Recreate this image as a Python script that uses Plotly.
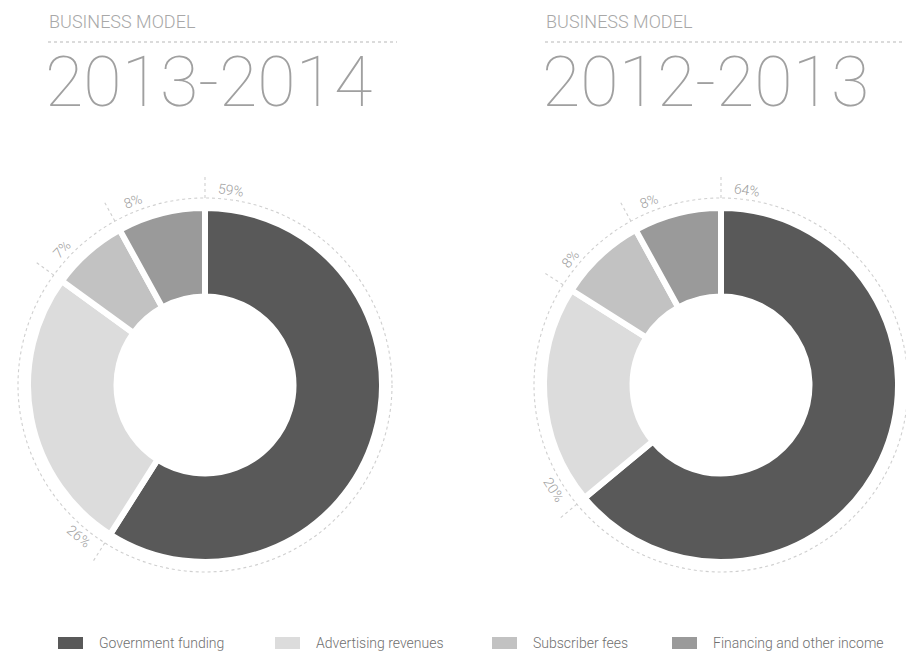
import math
import plotly.graph_objects as go

# Revenue mix per fiscal year (percent of total)
categories = ["Government funding", "Advertising revenues", "Subscriber fees", "Financing and other income"]
years = ["2013-2014", "2012-2013"]
share_2013_2014 = [59, 26, 7, 8]
share_2012_2013 = [64, 20, 8, 8]
colors = ["#595959", "#dcdcdc", "#c2c2c2", "#9a9a9a"]

W, H = 906, 660
R = 177            # donut outer radius (px)
RING = 187         # dotted guide ring radius (px)
centers = [(205, 385), (721, 385)]
title_x = [48, 545]
rule_end = [397, 905]


def px(x):
    return x / W


def py(y):
    return 1 - y / H


def polar(cx, cy, r, deg):
    a = math.radians(deg)
    return cx + r * math.sin(a), cy - r * math.cos(a)


fig = go.Figure()
shapes, annotations = [], []

for (cx, cy), year, values, tx, rx in zip(centers, years, [share_2013_2014, share_2012_2013], title_x, rule_end):
    fig.add_trace(go.Pie(
        labels=categories, values=values, sort=False, direction="clockwise", rotation=0,
        hole=0.5, textinfo="none", hoverinfo="label+percent",
        marker=dict(colors=colors, line=dict(color="white", width=6)),
        domain=dict(x=[px(cx - R), px(cx + R)], y=[py(cy + R), py(cy - R)]),
        showlegend=False,
    ))

    # dotted guide ring around the donut
    shapes.append(dict(type="circle", xref="paper", yref="paper",
                       x0=px(cx - RING), x1=px(cx + RING), y0=py(cy + RING), y1=py(cy - RING),
                       line=dict(color="#cfcfcf", width=1.1, dash="dot")))

    # tick + percentage label at the start of every slice
    total = sum(values)
    start = 0.0
    for v in values:
        x0, y0 = polar(cx, cy, RING, start)
        x1, y1 = polar(cx, cy, RING + 22, start)
        shapes.append(dict(type="line", xref="paper", yref="paper",
                           x0=px(x0), y0=py(y0), x1=px(x1), y1=py(y1),
                           line=dict(color="#cfcfcf", width=1.1, dash="dot")))
        a = start + 7.5
        lx, ly = polar(cx, cy, RING + 10, a)
        ang = a % 360
        if 90 < ang < 270:
            ang -= 180
        elif ang >= 270:
            ang -= 360
        annotations.append(dict(x=px(lx), y=py(ly), xref="paper", yref="paper",
                                text=f"{v}%", showarrow=False, textangle=ang,
                                xanchor="center", yanchor="middle",
                                font=dict(family="Roboto", size=14, color="#a0a0a0", weight=300)))
        start += v / total * 360

    # heading block
    annotations.append(dict(x=px(tx - 1), y=py(22), xref="paper", yref="paper", text="BUSINESS MODEL",
                            showarrow=False, xanchor="left", yanchor="middle",
                            font=dict(family="Roboto", size=18, color="#a8a8a8", weight=300)))
    shapes.append(dict(type="line", xref="paper", yref="paper",
                       x0=px(tx), x1=px(rx), y0=py(42), y1=py(42),
                       line=dict(color="#b8b8b8", width=1.2, dash="dot")))
    annotations.append(dict(x=px(tx - 5), y=py(82), xref="paper", yref="paper", text=year,
                            showarrow=False, xanchor="left", yanchor="middle",
                            font=dict(family="Roboto", size=70, color="#a0a0a0", weight=100)))

# legend row
legend_x = [58, 275, 492, 672]
LY = 643
for name, col, lx in zip(categories, colors, legend_x):
    shapes.append(dict(type="rect", xref="paper", yref="paper",
                       x0=px(lx), x1=px(lx + 25), y0=py(LY + 6), y1=py(LY - 6),
                       fillcolor=col, line=dict(width=0)))
    annotations.append(dict(x=px(lx + 39), y=py(LY), xref="paper", yref="paper", text=name,
                            showarrow=False, xanchor="left", yanchor="middle",
                            font=dict(family="Roboto", size=14, color="#707070", weight=300)))

fig.update_layout(
    width=W, height=H, margin=dict(l=0, r=0, t=0, b=0),
    paper_bgcolor="white", plot_bgcolor="white",
    shapes=shapes, annotations=annotations,
)

fig.write_html("out.html")
